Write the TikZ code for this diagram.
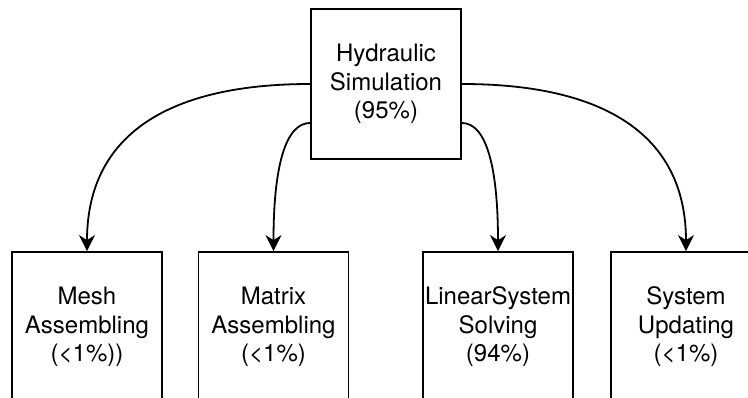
\documentclass[tikz,border=0pt]{standalone}
\usepackage{fontspec}
\setmainfont{TeX Gyre Heros}
\usetikzlibrary{arrows.meta,calc}
\begin{document}
\begin{tikzpicture}[x=1pt,y=-1pt,
  box/.style={draw, line width=1.8pt, minimum width=150pt, minimum height=150pt,
    inner sep=0pt, align=center, font=\fontsize{24}{28.5}\selectfont},
  link/.style={line width=1.8pt, -{Stealth[length=16pt,width=16pt,inset=5pt]}}]
\useasboundingbox (0,0) rectangle (748,398);
\clip (0,0) rectangle (748,398);

% boxes
\node[box] (sim)  at (386,84)    {Hydraulic\\Simulation\\(95\%)};
\node[box] (mesh) at (87,327)    {Mesh\\Assembling\\(<1\%))};
\node[box] (mat)  at (273.5,327) {Matrix\\Assembling\\(<1\%)};
\node[box] (lin)  at (498,327)   {LinearSystem\\Solving\\(94\%)};
\node[box] (upd)  at (686,327)   {System\\Updating\\(<1\%)};

% exit points on the sides of the top box
\coordinate (lu) at (sim.west);
\coordinate (ll) at ($(sim.west)+(0,39)$);
\coordinate (ru) at (sim.east);
\coordinate (rl) at ($(sim.east)+(0,39)$);

% bends of the curved links
\coordinate (c1) at (mesh.north |- lu);
\coordinate (c2) at (mat.north |- ll);
\coordinate (c3) at (lin.north |- rl);
\coordinate (c4) at (upd.north |- ru);

\draw[link] (lu) .. controls ($(lu)!2/3!(c1)$) and ($(mesh.north)!2/3!(c1)$) .. (mesh.north);
\draw[link] (ll) .. controls ($(ll)!2/3!(c2)$) and ($(mat.north)!2/3!(c2)$) .. (mat.north);
\draw[link] (rl) .. controls ($(rl)!2/3!(c3)$) and ($(lin.north)!2/3!(c3)$) .. (lin.north);
\draw[link] (ru) .. controls ($(ru)!2/3!(c4)$) and ($(upd.north)!2/3!(c4)$) .. (upd.north);
\end{tikzpicture}
\end{document}
